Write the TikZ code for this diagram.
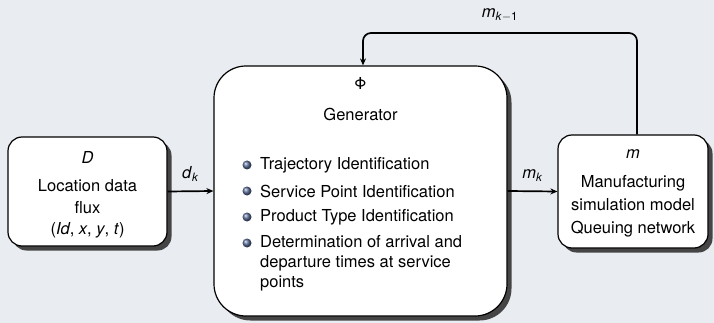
\documentclass[tikz,border=0pt]{standalone}
\usepackage{fontspec}
\setmainfont{TeX Gyre Heros}
\usepackage{tikz}
\usetikzlibrary{positioning}
\usetikzlibrary{arrows.meta}
\definecolor{bgcol}{HTML}{E9ECF1}
\definecolor{ballcol}{HTML}{5B6E99}
\definecolor{shadowcol}{HTML}{454545}
\tikzset{
  blockbox/.style={draw=black, line width=1.2pt, fill=white, rounded corners=#1},
  flowarrow/.style={line width=1.7pt, -{Stealth[length=7pt,width=6pt]}},
  itemball/.style={circle, inner sep=0pt, minimum size=9pt, shading=ball, ball color=ballcol},
  itemtext/.style={anchor=west, align=left, inner sep=0pt},
}

\begin{document}
\begin{tikzpicture}[x=1pt, y=-1pt, font=\fontsize{16.5}{20}\selectfont]

\fill[bgcol] (0,0) rectangle (714,323);
\useasboundingbox (0,0) rectangle (714,323);

% shadows of the blocks
\fill[shadowcol, rounded corners=14pt] (12.5,141.5) rectangle (171.5,250.5);
\fill[shadowcol, rounded corners=32pt] (218.5,70.5) rectangle (511.5,320.5);
\fill[shadowcol, rounded corners=14pt] (562.5,139.5) rectangle (712.5,252.5);

% the three blocks
\node[blockbox=14pt, minimum width=159pt, minimum height=109pt] (flux) at (87.5,191.5) {};
\node[blockbox=32pt, minimum width=293pt, minimum height=250pt] (gen) at (360.5,191) {};
\node[blockbox=14pt, minimum width=150pt, minimum height=113pt] (sim) at (633,191.5) {};

% texts of the left block
\path
(87.5,157) node (fluxsym) {\textit{D}}
(87.5,186) node (fluxa) {Location data}
(87.5,208) node (fluxb) {flux}
(87.5,230) node (fluxc) {(\textit{Id}, \textit{x}, \textit{y}, \textit{t})};

% texts of the generator
\path
(360.5,83) node (gensym) {Φ}
(360.5,114) node (genname) {Generator};

\node[itemball] (ba) at (247,165) {};
\node[itemball] (bb) at (247,191) {};
\node[itemball] (bc) at (247,217) {};
\node[itemball] (bd) at (247,243) {};
\node[itemtext] (ta) at (260,165) {Trajectory Identification};
\node[itemtext] (tb) at (260,191) {Service Point Identification};
\node[itemtext] (tc) at (260,217) {Product Type Identification};
\node[itemtext] (td) at (260,263) {Determination of arrival and\\departure times at service\\points};

% texts of the right block
\path
(633,154) node (simsym) {\textit{m}}
(633,183) node (sima) {Manufacturing}
(633,205) node (simb) {simulation model}
(633,229) node (simc) {Queuing network};

% connectors
\draw[flowarrow] (flux.east) -- (gen.west)
  node[midway, above=6pt] (dk) {\textit{d}\textsubscript{\textit{k}}};
\draw[flowarrow] (gen.east) -- (sim.west)
  node[midway, above=6pt] (mk) {\textit{m}\textsubscript{\textit{k}}};

\coordinate (fbup) at (637,33);
\coordinate (fbleft) at (363,33);
\draw[flowarrow, rounded corners=8pt] (sim.north -| fbup) -- (fbup) -- (fbleft) -- (gen.north -| fbleft);
\node (mkprev) at (500,15) {\textit{m}\textsubscript{\textit{k}$-$1}};

\end{tikzpicture}
\end{document}
